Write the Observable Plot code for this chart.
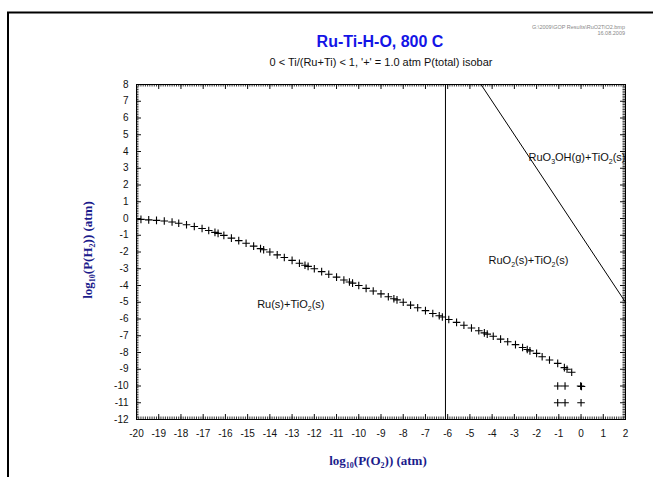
<!DOCTYPE html>
<html><head><meta charset="utf-8">
<script src="https://cdn.jsdelivr.net/npm/d3@7"></script>
<script src="https://cdn.jsdelivr.net/npm/@observablehq/plot@0.6"></script>
<style>body{margin:0;background:#fff} svg{display:block}</style>
</head><body><div id="chart"></div>
<script>
// ---- data ----
const isobarO2 = [-19.8, -19.45, -19.1, -18.75, -18.4, -18.1, -17.75, -17.4, -17.05, -16.75, -16.47, -16.33,
  -16.07, -15.73, -15.4, -15.07, -14.73, -14.42, -14.28,
  -14.0, -13.67, -13.35, -13.0, -12.67, -12.42, -12.28,
  -12.0, -11.67, -11.35, -11.0, -10.67, -10.42, -10.28,
  -10.0, -9.67, -9.35, -9.0, -8.67, -8.42, -8.28,
  -8.0, -7.67, -7.35, -7.0, -6.67, -6.38, -6.24,
  -5.95, -5.6, -5.27, -4.93, -4.6, -4.35, -4.22,
  -3.95, -3.62, -3.3, -2.95, -2.63, -2.42, -2.3,
  -2.0, -1.75, -1.42, -1.05, -0.75, -0.63, -0.42];
const isobarH2 = [-0.05, -0.08, -0.11, -0.15, -0.21, -0.28, -0.37, -0.48, -0.6, -0.72, -0.83, -0.89,
  -1.01, -1.17, -1.32, -1.48, -1.65, -1.8, -1.87,
  -2.0, -2.17, -2.33, -2.5, -2.67, -2.79, -2.86,
  -3.0, -3.17, -3.33, -3.5, -3.67, -3.79, -3.86,
  -4.0, -4.17, -4.33, -4.5, -4.67, -4.79, -4.86,
  -5.0, -5.17, -5.33, -5.5, -5.67, -5.81, -5.88,
  -6.03, -6.2, -6.37, -6.54, -6.7, -6.83, -6.9,
  -7.03, -7.2, -7.36, -7.53, -7.7, -7.82, -7.9,
  -8.05, -8.25, -8.45, -8.65, -8.9, -9.0, -9.18];
const extraO2 = [-1.05, -0.72, -0.02, 0.02, -1.05, -0.72, 0];
const extraH2 = [-10, -10, -10, -10.03, -11, -11, -11];
const boundaryO2 = [-6.1];
const lineO2 = [-4.5, 2];
const lineH2 = [8, -5];
const xTicks = [-20,-19,-18,-17,-16,-15,-14,-13,-12,-11,-10,-9,-8,-7,-6,-5,-4,-3,-2,-1,0,1,2];
const yTicks = [-12,-11,-10,-9,-8,-7,-6,-5,-4,-3,-2,-1,0,1,2,3,4,5,6,7,8];
const labelText = ["Ru(s)+TiO_{2}(s)", "RuO_{2}(s)+TiO_{2}(s)", "RuO_{3}OH(g)+TiO_{2}(s)"];
const labelO2 = [-14.55, -4.14, -2.34];
const labelH2 = [-5.4, -2.77, 3.42];
const titleText = "Ru-Ti-H-O, 800 C";
const subtitleText = "0 < Ti/(Ru+Ti) < 1, '+' = 1.0 atm P(total) isobar";
const xTitle = "log_{10}(P(O_{2})) (atm)";
const yTitle = "log_{10}(P(H_{2})) (atm)";
const fileNote = ["G:\\2009\\GOP Results\\RuO2TiO2.bmp", "16.08.2009"];

// ---- layout ----
const W = 653, H = 477, mL = 136, mR = 28, mT = 84, mB = 58;
const fw = W - mL - mR, fh = H - mT - mB;
const xMinor = d3.range(-200, 21).map(d => d / 10);
const yMinor = d3.range(-120, 81).map(d => d / 10);

const plusSymbol = {draw(ctx, size) {
  const h = Math.sqrt(size / Math.PI);
  ctx.moveTo(-h, 0); ctx.lineTo(h, 0); ctx.moveTo(0, -h); ctx.lineTo(0, h);
}};

const pts = isobarO2.map((x, i) => ({x, y: isobarH2[i]}))
  .concat(extraO2.map((x, i) => ({x, y: extraH2[i]})));
const seg = lineO2.map((x, i) => ({x, y: lineH2[i]}));

const plot = Plot.plot({
  width: W, height: H, marginLeft: mL, marginRight: mR, marginTop: mT, marginBottom: mB,
  style: {fontFamily: "'Liberation Sans', Arial, sans-serif", fontSize: "10px", color: "#111", background: "white", overflow: "visible"},
  x: {domain: [-20, 2]},
  y: {domain: [-12, 8]},
  marks: [
    Plot.tickX(xMinor, {x: d => d, insetTop: fh - 2.5, stroke: "#333"}),
    Plot.tickX(xMinor, {x: d => d, insetBottom: fh - 2.5, stroke: "#333"}),
    Plot.tickX(xTicks, {x: d => d, insetTop: fh - 5, stroke: "#111"}),
    Plot.tickX(xTicks, {x: d => d, insetBottom: fh - 5, stroke: "#111"}),
    Plot.tickY(yMinor, {y: d => d, insetRight: fw - 2.5, stroke: "#333"}),
    Plot.tickY(yMinor, {y: d => d, insetLeft: fw - 2.5, stroke: "#333"}),
    Plot.tickY(yTicks, {y: d => d, insetRight: fw - 5, stroke: "#111"}),
    Plot.tickY(yTicks, {y: d => d, insetLeft: fw - 5, stroke: "#111"}),
    Plot.frame({stroke: "black"}),
    Plot.axisX(xTicks, {tickSize: 0, tickPadding: 10, tickFormat: d => String(d), label: null, fontSize: 10}),
    Plot.axisY(yTicks, {tickSize: 0, tickPadding: 8, tickFormat: d => String(d), label: null, fontSize: 10}),
    Plot.ruleX(boundaryO2, {stroke: "black", strokeWidth: 1}),
    Plot.line(seg, {x: "x", y: "y", stroke: "black", strokeWidth: 1}),
    Plot.dot(pts, {x: "x", y: "y", symbol: plusSymbol, r: 3.8, stroke: "black", fill: "none", strokeWidth: 1.1})
  ]
});
document.getElementById("chart").appendChild(plot);

// ---- rich text helper (subscripts) ----
function rich(sel, str, subSize, shift) {
  const parts = str.split(/(_\{[^}]*\})/).filter(s => s.length);
  let down = false;
  parts.forEach(p => {
    const m = p.match(/^_\{([^}]*)\}$/);
    if (m) {
      sel.append("tspan").attr("font-size", subSize).attr("dy", shift).text(m[1]);
      down = true;
    } else {
      const t = sel.append("tspan").text(p);
      if (down) { t.attr("dy", -shift); down = false; }
    }
  });
}

const svg = d3.select(plot);
const sx = plot.scale("x"), sy = plot.scale("y");

// region labels
labelText.forEach((s, i) => {
  const t = svg.append("text")
    .attr("x", sx.apply(labelO2[i])).attr("y", sy.apply(labelH2[i]))
    .attr("text-anchor", "start")
    .attr("font-family", "'Liberation Sans', Arial, sans-serif").attr("font-size", 11).attr("fill", "#111");
  rich(t, s, 7, 3);
});

// border lines
svg.append("line").attr("x1", 7).attr("y1", 12.5).attr("x2", 653).attr("y2", 12.5).attr("stroke", "black").attr("stroke-width", 2);
svg.append("line").attr("x1", 8).attr("y1", 12).attr("x2", 8).attr("y2", 477).attr("stroke", "black").attr("stroke-width", 2);

// titles
svg.append("text").attr("x", 380).attr("y", 47).attr("text-anchor", "middle")
  .attr("font-family", "'Liberation Sans', Arial, sans-serif").attr("font-weight", "bold")
  .attr("font-size", 16).attr("fill", "#1414e6").text(titleText);
svg.append("text").attr("x", 381).attr("y", 66).attr("text-anchor", "middle")
  .attr("font-family", "'Liberation Sans', Arial, sans-serif")
  .attr("font-size", 11).attr("fill", "#111").text(subtitleText);
fileNote.forEach((s, i) => {
  svg.append("text").attr("x", 625).attr("y", 29 + i * 6).attr("text-anchor", "end")
    .attr("font-family", "'Liberation Sans', Arial, sans-serif")
    .attr("font-size", 5.5).attr("fill", "#888").text(s);
});

// axis titles
const xt = svg.append("text").attr("x", 378).attr("y", 465).attr("text-anchor", "middle")
  .attr("font-family", "'Liberation Serif', 'Times New Roman', serif").attr("font-weight", "bold")
  .attr("font-size", 13).attr("fill", "#1c1c8c");
rich(xt, xTitle, 8, 3);
const yt = svg.append("text").attr("transform", "translate(92,250) rotate(-90)").attr("text-anchor", "middle")
  .attr("font-family", "'Liberation Serif', 'Times New Roman', serif").attr("font-weight", "bold")
  .attr("font-size", 13).attr("fill", "#1c1c8c");
rich(yt, yTitle, 8, 3);
</script>
</body></html>
